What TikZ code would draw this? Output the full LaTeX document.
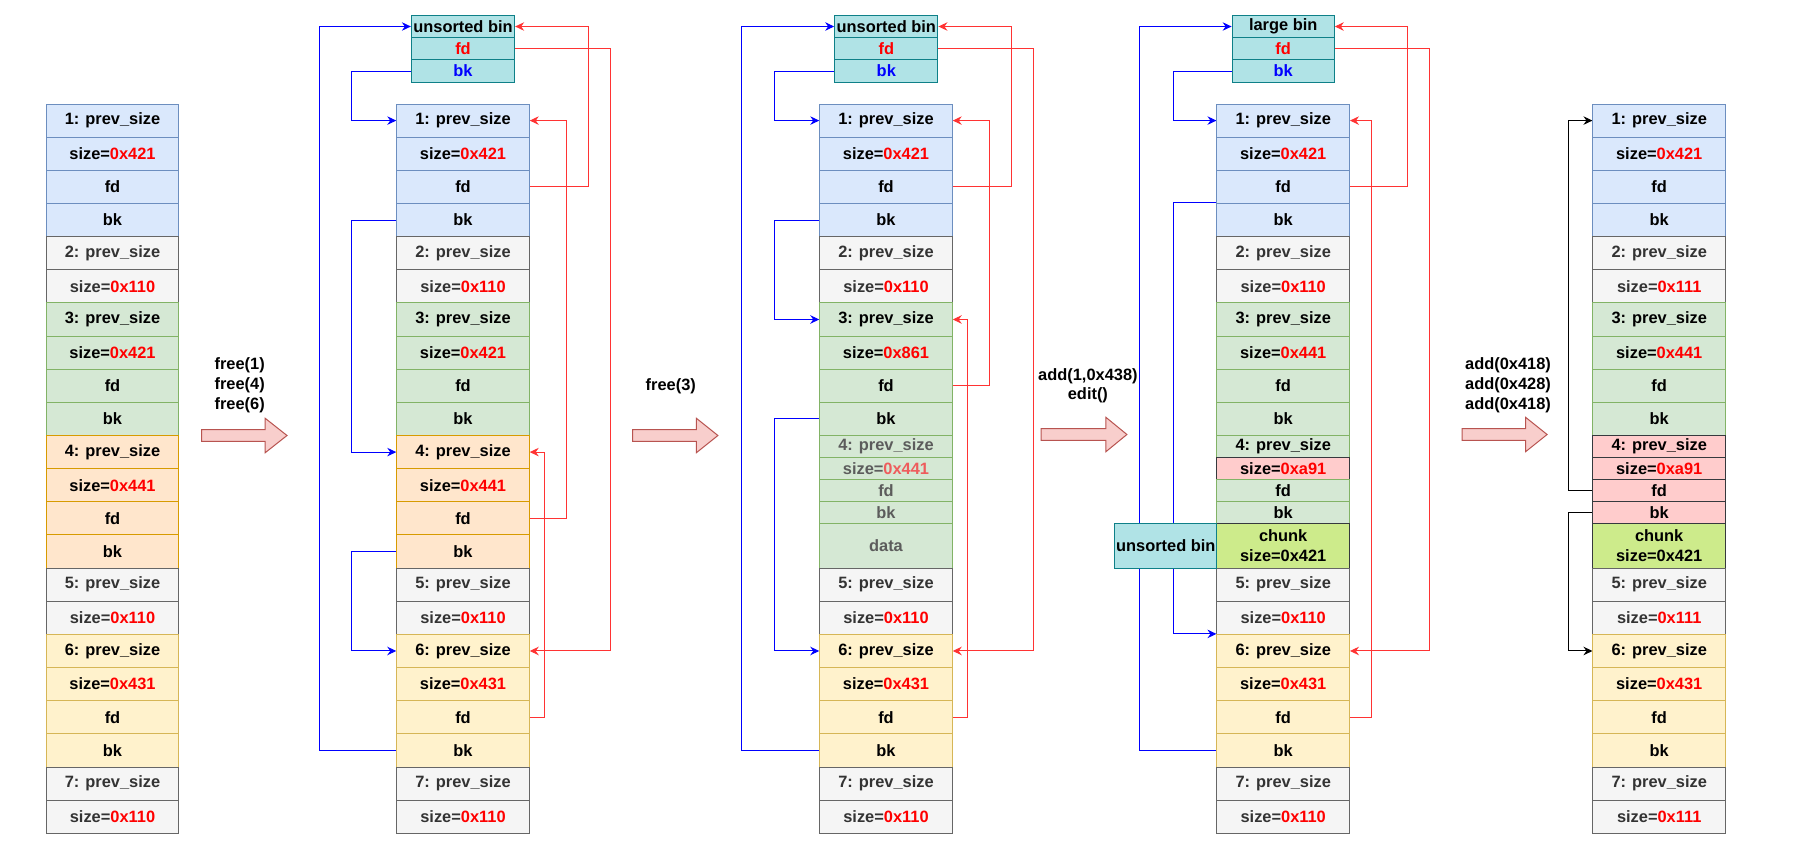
\documentclass[tikz,border=0pt]{standalone}
\usepackage{fontspec}
\setmainfont{Liberation Sans}
\usetikzlibrary{arrows.meta}
\pgfdeclarelayer{bg}
\pgfsetlayers{bg,main}
\definecolor{blueF}{HTML}{DAE8FC}\definecolor{blueD}{HTML}{6C8EBF}
\definecolor{grayF}{HTML}{F5F5F5}\definecolor{grayD}{HTML}{666666}\definecolor{grayT}{HTML}{333333}
\definecolor{greenF}{HTML}{D5E8D4}\definecolor{greenD}{HTML}{82B366}
\definecolor{orangeF}{HTML}{FFE6CC}\definecolor{orangeD}{HTML}{D79B00}
\definecolor{yellowF}{HTML}{FFF2CC}\definecolor{yellowD}{HTML}{D6B656}
\definecolor{binF}{HTML}{B0E3E6}\definecolor{binD}{HTML}{0E8088}
\definecolor{pinkF}{HTML}{FFCCCC}\definecolor{pinkD}{HTML}{36393D}
\definecolor{chunkF}{HTML}{CDEB8B}
\definecolor{arrF}{HTML}{F8CECC}\definecolor{arrD}{HTML}{B85450}
\definecolor{redT}{HTML}{FF0000}
\definecolor{dimT}{HTML}{5C5C5C}\definecolor{dimR}{HTML}{EE5C5C}
\definecolor{lnR}{HTML}{FF3333}\definecolor{lnB}{HTML}{0000FF}
\newcommand\rd[1]{\textcolor{redT}{#1}}
\newcommand\rdim[1]{\textcolor{dimR}{#1}}
\newcommand\bl[1]{\textcolor{lnB}{#1}}
\tikzset{
  cell/.style={draw, line width=1pt, minimum width=132.5pt, inner sep=0pt,
    font=\bfseries\fontsize{16.4}{19}\selectfont, align=center},
  cb/.style={cell, fill=blueF, draw=blueD},
  cg/.style={cell, fill=grayF, draw=grayD, text=grayT},
  cgr/.style={cell, fill=greenF, draw=greenD},
  co/.style={cell, fill=orangeF, draw=orangeD},
  cy/.style={cell, fill=yellowF, draw=yellowD},
  cpk/.style={cell, fill=pinkF, draw=pinkD},
  cck/.style={cell, fill=chunkF, draw=pinkD, font=\bfseries\fontsize{16.4}{20}\selectfont},
  cdim/.style={cgr, text=dimT},
  binc/.style={cell, fill=binF, draw=binD, minimum width=103.3pt, minimum height=22.2pt},
  lbl/.style={font=\bfseries\fontsize{16.4}{19.8}\selectfont, align=center, inner sep=0pt},
  tipx/.style={-{Stealth[length=9pt,width=8.5pt,inset=3pt]}},
  bline/.style={draw=lnB, line width=1pt, tipx},
  rline/.style={draw=lnR, line width=1pt, tipx},
  kline/.style={draw=black, line width=1pt, tipx},
  bigarrow/.style={fill=arrF, draw=arrD, line width=1pt}
}
\newcommand\cellrow[4]{\node[#2,minimum height=33.15pt] (#1) at (\colx,{104+33.15*(#3+0.5)}) {#4};}
\newcommand\cellsmall[5]{\node[#2,minimum height=#4pt] (#1) at (\colx,{#3+#4/2}) {#5};}
\newcommand\topblock[3]{%
\cellrow{#1-0}{cb}{0}{1: prev\_size}%
\cellrow{#1-1}{cb}{1}{size=\rd{0x421}}%
\cellrow{#1-2}{cb}{2}{fd}%
\cellrow{#1-3}{cb}{3}{bk}%
\cellrow{#1-4}{cg}{4}{2: prev\_size}%
\cellrow{#1-5}{cg}{5}{size=\rd{#2}}%
\cellrow{#1-6}{cgr}{6}{3: prev\_size}%
\cellrow{#1-7}{cgr}{7}{size=\rd{#3}}%
\cellrow{#1-8}{cgr}{8}{fd}%
\cellrow{#1-9}{cgr}{9}{bk}}
\newcommand\orangeblock[1]{%
\cellrow{#1-10}{co}{10}{4: prev\_size}%
\cellrow{#1-11}{co}{11}{size=\rd{0x441}}%
\cellrow{#1-12}{co}{12}{fd}%
\cellrow{#1-13}{co}{13}{bk}}
\newcommand\botblock[2]{%
\cellrow{#1-14}{cg}{14}{5: prev\_size}%
\cellrow{#1-15}{cg}{15}{size=\rd{#2}}%
\cellrow{#1-16}{cy}{16}{6: prev\_size}%
\cellrow{#1-17}{cy}{17}{size=\rd{0x431}}%
\cellrow{#1-18}{cy}{18}{fd}%
\cellrow{#1-19}{cy}{19}{bk}%
\cellrow{#1-20}{cg}{20}{7: prev\_size}%
\cellrow{#1-21}{cg}{21}{size=\rd{#2}}}
\newcommand\bigarr[4]{%
\draw[bigarrow] (#1,{#2-5.85}) -- ({#1+#3},{#2-5.85}) -- ({#1+#3},{#2-17.2}) -- ({#1+#4},#2)
  -- ({#1+#3},{#2+17.2}) -- ({#1+#3},{#2+5.85}) -- (#1,{#2+5.85}) -- cycle;}
\begin{document}
\begin{tikzpicture}[x=1pt,y=-1pt]
\useasboundingbox (0,0) rectangle (1805,849);

% column 1
\def\colx{112.5}
\topblock{a}{0x110}{0x421}
\orangeblock{a}
\botblock{a}{0x110}

% column 2
\def\colx{463}
\node[binc] (bb0) at (463,26.5) {unsorted bin};
\node[binc] (bb1) at (463,48.8) {\rd{fd}};
\node[binc] (bb2) at (463,71) {\bl{bk}};
\topblock{b}{0x110}{0x421}
\orangeblock{b}
\botblock{b}{0x110}

% column 3
\def\colx{886}
\node[binc] (cb0) at (886.3,26.5) {unsorted bin};
\node[binc] (cb1) at (886.3,48.8) {\rd{fd}};
\node[binc] (cb2) at (886.3,71) {\bl{bk}};
\topblock{c}{0x110}{0x861}
\cellsmall{c-4p}{cdim}{435.5}{22.1}{4: prev\_size}
\cellsmall{c-4s}{cdim}{457.6}{22.1}{size=\rdim{0x441}}
\cellsmall{c-4f}{cdim}{479.7}{22.1}{fd}
\cellsmall{c-4b}{cdim}{501.8}{22.1}{bk}
\cellsmall{c-dt}{cdim}{523.9}{44.2}{data}
\botblock{c}{0x110}

% column 4
\def\colx{1283.2}
\node[binc, minimum width=102.2pt] (db0) at (1283.2,26.5) {large bin};
\node[binc, minimum width=102.2pt] (db1) at (1283.2,48.8) {\rd{fd}};
\node[binc, minimum width=102.2pt] (db2) at (1283.2,71) {\bl{bk}};
\topblock{d}{0x110}{0x441}
\cellsmall{d-4p}{cgr}{435.5}{22.1}{4: prev\_size}
\cellsmall{d-4s}{cpk}{457.6}{22.1}{size=\rd{0xa91}}
\cellsmall{d-4f}{cgr}{479.7}{22.1}{fd}
\cellsmall{d-4b}{cgr}{501.8}{22.1}{bk}
\cellsmall{d-ck}{cck}{523.9}{44.2}{chunk\\size=0x421}
\botblock{d}{0x110}
\node[binc, minimum width=102.25pt, minimum height=44.2pt] (ub) at (1165.8,546) {unsorted bin};

% column 5
\def\colx{1659.2}
\topblock{e}{0x111}{0x441}
\cellsmall{e-4p}{cpk}{435.5}{22.1}{4: prev\_size}
\cellsmall{e-4s}{cpk}{457.6}{22.1}{size=\rd{0xa91}}
\cellsmall{e-4f}{cpk}{479.7}{22.1}{fd}
\cellsmall{e-4b}{cpk}{501.8}{22.1}{bk}
\cellsmall{e-ck}{cck}{523.9}{44.2}{chunk\\size=0x421}
\botblock{e}{0x111}

% labels
\node[lbl] (t1) at (239.7,385.5) {free(1)\\free(4)\\free(6)};
\node[lbl] (t2) at (670.8,386.7) {free(3)};
\node[lbl] (t3) at (1087.9,385.7) {add(1,0x438)\\edit()};
\node[lbl] (t4) at (1508,385.5) {add(0x418)\\add(0x428)\\add(0x418)};

% big arrows
\bigarr{201.7}{435.5}{63.5}{85.3}
\bigarr{632.5}{435.5}{63.9}{85.4}
\bigarr{1041.2}{434.5}{64.7}{85.7}
\bigarr{1462.1}{434.5}{63.5}{85}

\begin{pgfonlayer}{bg}
\fill[white] (0,0) rectangle (1805,849);
% column 2 links
\draw[bline] (b-19.west) -- ++(-77.25,0) |- (bb0.west);
\draw[bline] (bb2.west) -- ++(-58.95,0) |- (b-0.west);
\draw[bline] (b-3.west) -- ++(-44.35,0) |- (b-10.west);
\draw[bline] (b-13.west) -- ++(-44.35,0) |- (b-16.west);
\draw[rline] (bb1.east) -- ++(94.95,0) |- (b-16.east);
\draw[rline] (b-2.east) -- ++(58.85,0) |- (bb0.east);
\draw[rline] (b-12.east) -- ++(36.65,0) |- (b-0.east);
\draw[rline] (b-18.east) -- ++(14.55,0) |- (b-10.east);
% column 3 links
\draw[bline] (c-19.west) -- ++(-77.45,0) |- (cb0.west);
\draw[bline] (cb2.west) -- ++(-59.35,0) |- (c-0.west);
\draw[bline] (c-3.west) -- ++(-44.45,0) |- (c-6.west);
\draw[bline] (c-9.west) -- ++(-44.45,0) |- (c-16.west);
\draw[rline] (cb1.east) -- ++(95.25,0) |- (c-16.east);
\draw[rline] (c-2.east) -- ++(59.05,0) |- (cb0.east);
\draw[rline] (c-8.east) -- ++(36.95,0) |- (c-0.east);
\draw[rline] (c-18.east) -- ++(14.75,0) |- (c-6.east);
% column 4 links
\draw[bline] (d-19.west) -- ++(-77.05,0) |- (db0.west);
\draw[bline] (db2.west) -- ++(-58.5,0) |- (d-0.west);
\draw[bline] (d-3.north west) -- ++(-43.35,0) |- (d-16.north west);
\draw[rline] (db1.east) -- ++(94.9,0) |- (d-16.east);
\draw[rline] (d-2.east) -- ++(57.55,0) |- (db0.east);
\draw[rline] (d-18.east) -- ++(21.55,0) |- (d-0.east);
% column 5 links
\draw[kline] (e-4f.west) -- ++(-24.45,0) |- (e-0.west);
\draw[kline] (e-4b.west) -- ++(-24.45,0) |- (e-16.west);
\end{pgfonlayer}
\end{tikzpicture}
\end{document}
